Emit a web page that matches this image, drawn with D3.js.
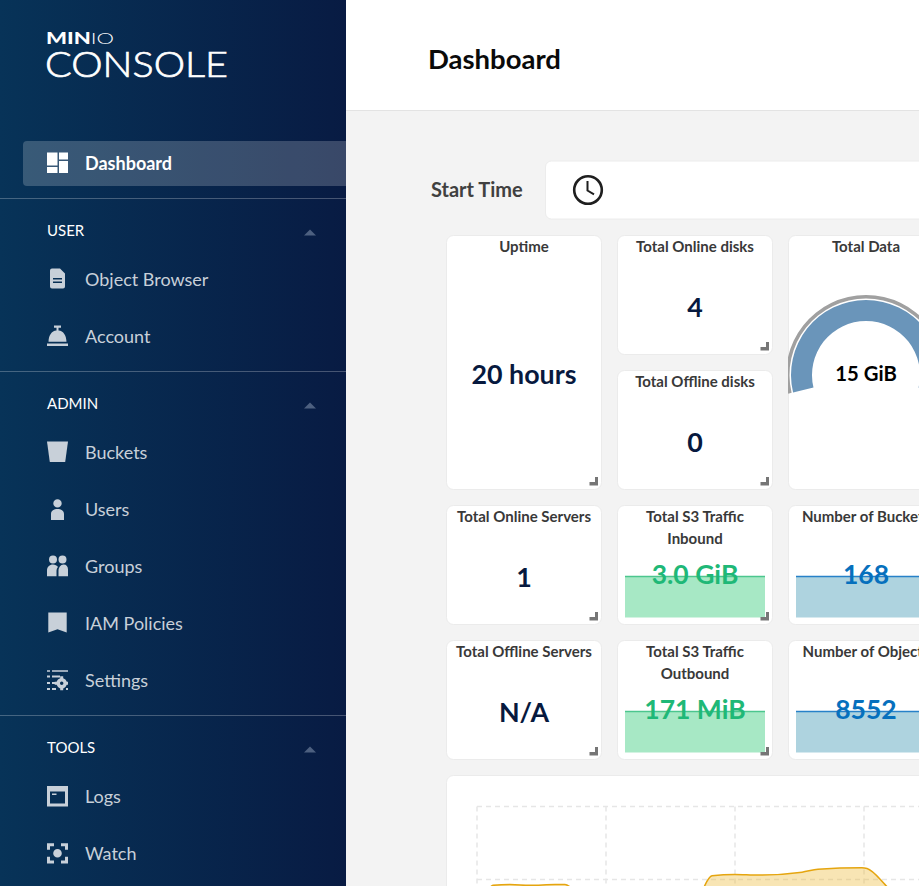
<!DOCTYPE html>
<html>
<head>
<meta charset="utf-8">
<title>MinIO Console</title>
<script src="https://cdn.jsdelivr.net/npm/d3@7"></script>
<style>
    html, body { margin: 0; padding: 0; overflow: hidden; background: #f3f3f3; }
    svg { display: block; }
    text { font-family: Lato, "Noto Sans", sans-serif; }
</style>
</head>
<body>
<div id="chart"></div>
<script>
// Side menu
const menuTop = ['Dashboard']
const menuUser = ['Object Browser', 'Account']
const menuAdmin = ['Buckets', 'Users', 'Groups', 'IAM Policies', 'Settings']
const menuTools = ['Logs', 'Watch']
const sectionNames = ['USER', 'ADMIN', 'TOOLS']

// Cards
const plainTitles = ['Uptime', 'Total Online disks', 'Total Offline disks', 'Total Online Servers', 'Total Offline Servers']
const plainValues = ['20 hours', '4', '0', '1', 'N/A']
const trendTitles = [['Total S3 Traffic', 'Inbound'], ['Number of Buckets'], ['Total S3 Traffic', 'Outbound'], ['Number of Objects']]
const trendValues = ['3.0 GiB', '168', '171 MiB', '8552']

// Flat sparklines behind the numbers
const trendInbound = [1, 1, 1, 1, 1]
const trendBuckets = [1, 1, 1, 1, 1]
const trendOutbound = [1, 1, 1, 1, 1]
const trendObjects = [1, 1, 1, 1, 1]

// Total data gauge
const gaugeValues = [15]
const gaugeLabel = '15 GiB'

// Area chart at the bottom, null breaks the line
const chartMinutes = [4.6, 7.4, 15.3, 24.7, 36.3, 40.9, 44.2, 46.5, 60, 104.7, 106, 109.3, 120, 130.7, 151.2, 158.6, 179, 181.4, 189.8, 193]
const chartValues = [1.83, 1.92, 1.93, 1.92, 1.93, 1.93, 1.88, 1.83, null, 1.83, 1.92, 2.05, 2.07, 2.06, 2.10, 2.14, 2.16, 2.15, 1.93, 1.83]
const chartMinuteTicks = [0, 60, 120, 180, 240]
const chartValueTicks = [2, 3]

const width = 919
const height = 886
const sidebar_width = 346
const icon_color = '#c8d0d9'

var svg = d3.select('#chart')
    .append('svg')
    .attr('width', width)
    .attr('height', height)

var defs = svg.append('defs')
var grad = defs.append('linearGradient').attr('id', 'sideGrad')
grad.append('stop').attr('offset', '0%').attr('stop-color', '#073358')
grad.append('stop').attr('offset', '100%').attr('stop-color', '#081b43')

// ---- page background and header
svg.append('rect').attr('width', width).attr('height', height).attr('fill', '#f3f3f3')
svg.append('rect').attr('x', sidebar_width).attr('width', width - sidebar_width).attr('height', 110).attr('fill', '#fff')
svg.append('line').attr('x1', sidebar_width).attr('x2', width).attr('y1', 110.5).attr('y2', 110.5).attr('stroke', '#e3e3e3')
svg.append('text').attr('x', 428).attr('y', 69).attr('font-size', 27.5).attr('font-weight', 700).attr('fill', '#0a0a0a').text('Dashboard')

// ---- sidebar
var side = svg.append('g')
side.append('rect').attr('width', sidebar_width).attr('height', height).attr('fill', 'url(#sideGrad)')

// logo
var logo = side.append('text').attr('x', 46).attr('y', 44).attr('font-size', 16).attr('fill', '#fff')
    .attr('textLength', 68).attr('lengthAdjust', 'spacingAndGlyphs')
logo.append('tspan').attr('font-weight', 900).text('MIN')
logo.append('tspan').attr('font-weight', 300).text('IO')
side.append('text').attr('x', 45).attr('y', 76.5).attr('font-size', 35).attr('font-weight', 300).attr('fill', '#fff')
    .attr('stroke', '#fff').attr('stroke-width', 0.7)
    .attr('textLength', 183).attr('lengthAdjust', 'spacingAndGlyphs').text('CONSOLE')

// active row
side.append('path').attr('d', 'M346 141H27a4 4 0 0 0-4 4v37a4 4 0 0 0 4 4H346Z').attr('fill', 'rgba(255,255,255,0.2)')

var dividers = [198, 371, 715]
side.selectAll('line.div').data(dividers).enter().append('line')
    .attr('class', 'div')
    .attr('x1', 0).attr('x2', sidebar_width)
    .attr('y1', function(d){ return d + 0.5 })
    .attr('y2', function(d){ return d + 0.5 })
    .attr('stroke', 'rgba(255,255,255,0.25)')

var sectionY = [230, 403, 747]
side.selectAll('text.section').data(sectionNames).enter().append('text')
    .attr('class', 'section')
    .attr('x', 47)
    .attr('y', function(d, i){ return sectionY[i] + 5.5 })
    .attr('font-size', 15)
    .attr('fill', '#fff')
    .text(function(d){ return d })
side.selectAll('path.caret').data(sectionY).enter().append('path')
    .attr('class', 'caret')
    .attr('d', function(d){ return 'M304 ' + (d + 5.5) + 'l6-6l6 6Z' })
    .attr('fill', '#4d6080')

var rows = [
    {names: menuTop, ys: [163], color: '#fff', weight: 700},
    {names: menuUser, ys: [279, 336], color: icon_color, weight: 400},
    {names: menuAdmin, ys: [452, 509, 566, 623, 680], color: icon_color, weight: 400},
    {names: menuTools, ys: [796, 853], color: icon_color, weight: 400}
]
rows.forEach(function(r){
    r.names.forEach(function(name, i){
        side.append('text')
            .attr('x', 85)
            .attr('y', r.ys[i] + 6.5)
            .attr('font-size', 18)
            .attr('font-weight', r.weight)
            .attr('fill', r.color)
            .text(name)
        drawIcon(name, r.ys[i], r.color)
    })
})

// icons sit in a 21x21 box, zero is the top left of that box
function drawIcon(name, cy, color){
    var g = side.append('g')
        .attr('transform', 'translate(47,' + (cy - 10.5) + ')')
        .attr('fill', color)
    var paths = {
        'Dashboard': 'M0 0h10.5v13H0ZM0 14.5h10.5v6H0ZM12 0h9v7h-9ZM12 8.5h9v12h-9Z',
        'Object Browser': 'M5 0h8l5 5v13a2 2 0 0 1-2 2H5a2 2 0 0 1-2-2V2a2 2 0 0 1 2-2ZM6 9.500v1.500h9V9.500ZM6 13v1.500h9V13Z',
        'Account': 'M7 0h7v2.300h-2.500v2.800c5 .5 7.800 5 8 11.100H1.500c.2-6.100 3-10.600 8-11.100V2.300H7ZM0 18h21v2.500H0Z',
        'Buckets': 'M0 0h21l-2.800 20.500H2.800Z',
        'Users': 'M10.500 .7a4.200 4.200 0 1 1 0 8.400a4.200 4.200 0 0 1 0-8.400ZM4 21.500V15.500c0-3.300 3-5 6.500-5s6.500 1.700 6.500 5v6Z',
        'Groups': 'M6 0a4 4 0 1 1 0 8a4 4 0 0 1 0-8ZM15.500 0a4 4 0 1 1 0 8a4 4 0 0 1 0-8ZM0 20.800V15c0-3.500 2.500-6 6-6c2 0 4 1 5 2.500c-1 1-1.500 2.500-1.500 4v5.300ZM11.500 20.800V15.500c0-3.500 2-6.500 5-6.500s4.500 2 4.500 5v6.800Z',
        'IAM Policies': 'M1.300 0h18.400v20l-9.200-3.200L1.300 20Z',
        'Settings': 'M0 .7h3v1.600H0ZM5 .7h16v1.600H5ZM0 6h3v2H0ZM5 6h8v2H5ZM0 12.500h3v2H0ZM5 12.500h3v2H5ZM0 18.500h3v2H0ZM5 18.500h4v2H5ZM19 18.500h2v2h-2Z',
        'Logs': 'M0 .5h21V21H0ZM3 6v12H18V6ZM5 8h4.500v1.500H5Z',
        'Watch': 'M0 .8h7v3H3v3.500H0ZM14 .8h7v6.500h-3V3.800h-4ZM0 14.300h3V18h4v3H0ZM18 14.300h3V21h-7v-3h4ZM10.500 6.500a4.300 4.300 0 1 1 0 8.600a4.300 4.300 0 0 1 0-8.600Z'
    }
    g.append('path').attr('d', paths[name]).attr('fill-rule', 'evenodd')
    if (name === 'Settings'){
        g.append('circle').attr('cx', 14.700).attr('cy', 13.800).attr('r', 3.500).attr('fill', 'none').attr('stroke', color).attr('stroke-width', 3.500)
        g.append('path').attr('d', 'M13.200 6.800h3v3h-3ZM13.200 17.800h3v3h-3ZM7.700 12.300h3v3h-3ZM18.700 12.300h2.300v3h-2.300Z')
    }
}

// ---- start time row
svg.append('text').attr('x', 431).attr('y', 197).attr('font-size', 20).attr('font-weight', 700).attr('fill', '#404040').text('Start Time')
svg.append('rect').attr('x', 545.500).attr('y', 161).attr('width', 420).attr('height', 58).attr('rx', 6).attr('fill', '#fff').attr('stroke', '#ececec')
svg.append('circle').attr('cx', 588).attr('cy', 190).attr('r', 13.800).attr('fill', 'none').attr('stroke', '#1f1f1f').attr('stroke-width', 2.600)
svg.append('path').attr('d', 'M587.500 181v9.500l6.500 3.800').attr('fill', 'none').attr('stroke', '#1f1f1f').attr('stroke-width', 2)

// ---- cards
function card(x, y, w, h){
    var g = svg.append('g').attr('transform', 'translate(' + x + ',' + y + ')')
    g.append('rect')
        .attr('x', 0.500).attr('y', 0.500)
        .attr('width', w).attr('height', h)
        .attr('rx', 7)
        .attr('fill', '#fff')
        .attr('stroke', '#ebebeb')
    return g
}

function cardGrip(g, w, h){
    g.append('path')
        .attr('d', 'M' + (w - 3) + ' ' + (h - 12) + 'h-3v5h-5.500v3.500h8.500Z')
        .attr('fill', '#767676')
}

function cardTitle(g, w, lines){
    g.selectAll('text.title').data(lines).enter().append('text')
        .attr('class', 'title')
        .attr('x', w / 2 + 0.500)
        .attr('y', function(d, i){ return 17 + i * 22 })
        .attr('text-anchor', 'middle')
        .attr('font-size', 15)
        .attr('font-weight', 700)
        .attr('fill', '#393939')
        .text(function(d){ return d })
}

var plainBoxes = [
    [446, 235, 155, 254],
    [617, 235, 155, 119],
    [617, 370, 155, 119],
    [446, 505, 155, 119],
    [446, 640, 155, 119]
]
plainBoxes.forEach(function(b, i){
    var g = card(b[0], b[1], b[2], b[3])
    cardTitle(g, b[2], [plainTitles[i]])
    g.append('text')
        .attr('x', b[2] / 2 + 0.500)
        .attr('y', b[3] > 200 ? 148.5 : 82)
        .attr('text-anchor', 'middle')
        .attr('font-size', 26.8)
        .attr('font-weight', 700)
        .attr('fill', '#07193e')
        .text(plainValues[i])
    cardGrip(g, b[2], b[3])
})

// sparkline cards, drawn through their own scales
var trendSeries = [trendInbound, trendBuckets, trendOutbound, trendObjects]
var trendBoxes = [[617, 505], [788, 505], [617, 640], [788, 640]]
var trendStyles = [
    {line: '#4cc68e', fill: '#a7e8c5', text: '#1fb877'},
    {line: '#2781c8', fill: '#aed3df', text: '#0670bd'},
    {line: '#4cc68e', fill: '#a7e8c5', text: '#1fb877'},
    {line: '#2781c8', fill: '#aed3df', text: '#0670bd'}
]
var spark_w = 155
var spark_x = d3.scaleLinear().domain([0, 4]).range([8, 148])
var spark_y = d3.scaleLinear().domain([0, 1]).range([112.500, 71.500])
trendSeries.forEach(function(series, i){
    var b = trendBoxes[i]
    var st = trendStyles[i]
    var g = card(b[0], b[1], spark_w, 119)
    cardTitle(g, spark_w, trendTitles[i])
    var area = d3.area()
        .x(function(d, k){ return spark_x(k) })
        .y0(spark_y(0))
        .y1(function(d){ return spark_y(d) })
    var line = d3.line()
        .x(function(d, k){ return spark_x(k) })
        .y(function(d){ return spark_y(d) })
    g.append('path').attr('d', area(series)).attr('fill', st.fill)
    g.append('path').attr('d', line(series)).attr('fill', 'none').attr('stroke', st.line).attr('stroke-width', 1.500)
    g.append('text')
        .attr('x', spark_w / 2 + 0.500)
        .attr('y', 79)
        .attr('text-anchor', 'middle')
        .attr('font-size', 26.5)
        .attr('font-weight', 700)
        .attr('fill', st.text)
        .text(trendValues[i])
    cardGrip(g, spark_w, 119)
})

// total data gauge
var gaugeCard = card(788, 235, 155, 254)
cardTitle(gaugeCard, 155, ['Total Data'])
defs.append('clipPath').attr('id', 'gaugeClip').append('rect').attr('x', 0).attr('y', 0).attr('width', 155).attr('height', 254).attr('rx', 7)
var gauge = gaugeCard.append('g')
    .attr('clip-path', 'url(#gaugeClip)')
    .append('g')
    .attr('transform', 'translate(78,140)')
var gauge_pie = d3.pie()
    .startAngle(-103.5 * Math.PI / 180)
    .endAngle(103.5 * Math.PI / 180)
    .sort(null)
gauge.selectAll('path.ring').data(gauge_pie(gaugeValues)).enter().append('path')
    .attr('class', 'ring')
    .attr('d', d3.arc().innerRadius(76.5).outerRadius(80))
    .attr('fill', '#a0a0a0')
gauge.selectAll('path.used').data(gauge_pie(gaugeValues)).enter().append('path')
    .attr('class', 'used')
    .attr('d', d3.arc().innerRadius(54).outerRadius(75))
    .attr('fill', '#6a95ba')
gauge.append('text')
    .attr('y', 5.5)
    .attr('x', 0)
    .attr('text-anchor', 'middle')
    .attr('font-size', 20.3)
    .attr('font-weight', 700)
    .attr('fill', '#000')
    .text(gaugeLabel)

// ---- area chart card
svg.append('rect')
    .attr('x', 446.500).attr('y', 775.500)
    .attr('width', 600).attr('height', 200)
    .attr('rx', 7)
    .attr('fill', '#fff')
    .attr('stroke', '#ebebeb')

var x_scale = d3.scaleLinear().domain([0, 60]).range([477, 606])
var y_scale = d3.scaleLinear().domain([2, 3]).range([879.500, 806.500])

var grid = svg.append('g')
    .attr('stroke', '#e6e6e6')
    .attr('stroke-width', 1.500)
    .attr('stroke-dasharray', '5 4')
grid.selectAll('line.v').data(chartMinuteTicks).enter().append('line')
    .attr('class', 'v')
    .attr('x1', function(d){ return x_scale(d) })
    .attr('x2', function(d){ return x_scale(d) })
    .attr('y1', y_scale(3))
    .attr('y2', height)
grid.selectAll('line.h').data(chartValueTicks).enter().append('line')
    .attr('class', 'h')
    .attr('x1', x_scale(0))
    .attr('x2', width)
    .attr('y1', function(d){ return y_scale(d) })
    .attr('y2', function(d){ return y_scale(d) })

var chart_points = chartMinutes.map(function(m, i){ return {m: m, v: chartValues[i]} })
var chart_area = d3.area()
    .defined(function(d){ return d.v !== null })
    .curve(d3.curveMonotoneX)
    .x(function(d){ return x_scale(d.m) })
    .y0(height + 40)
    .y1(function(d){ return y_scale(d.v) })
var chart_line = d3.line()
    .defined(function(d){ return d.v !== null })
    .curve(d3.curveMonotoneX)
    .x(function(d){ return x_scale(d.m) })
    .y(function(d){ return y_scale(d.v) })
svg.append('path').attr('d', chart_area(chart_points)).attr('fill', '#ecb72e').attr('fill-opacity', 0.36)
svg.append('path').attr('d', chart_line(chart_points)).attr('fill', 'none').attr('stroke', '#e5a50f').attr('stroke-width', 1.500)
</script>
</body>
</html>
